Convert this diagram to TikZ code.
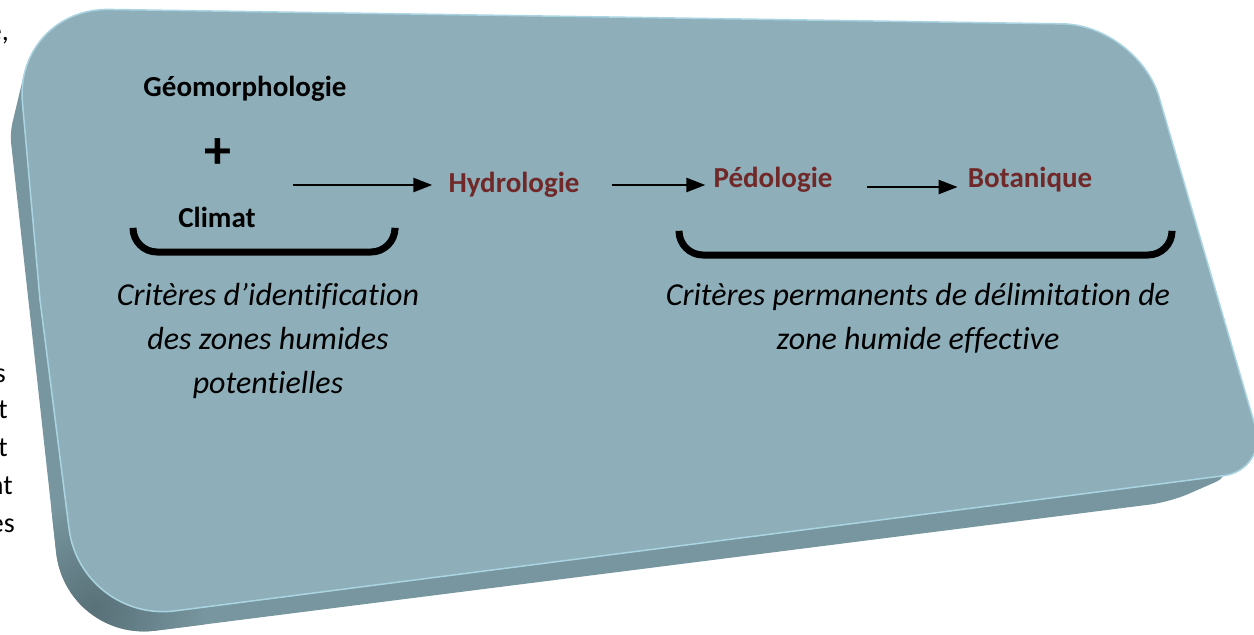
\documentclass[tikz,border=0pt]{standalone}
\usepackage{fontspec}
\setmainfont{Carlito}[Ligatures=NoCommon]
\usetikzlibrary{arrows.meta,calc}

\definecolor{facecol}{RGB}{142,175,186}
\definecolor{sidecol}{RGB}{120,150,159}
\definecolor{sidedark}{RGB}{88,112,120}
\definecolor{rimcol}{RGB}{170,212,225}
\definecolor{critred}{RGB}{112,40,40}

\tikzset{
  face/.style={fill=facecol,draw=rimcol,line width=1.5pt},
  side/.style={fill=sidecol},
  term/.style={font=\bfseries\fontsize{29}{35}\selectfont,inner sep=0pt,anchor=base},
  stage/.style={term,text=critred},
  crit/.style={font=\itshape\fontsize{32}{44}\selectfont,align=center,inner sep=0pt,anchor=north},
  flow/.style={-{Triangle[length=19pt,width=14pt]},line width=2.5pt},
  brc/.style={line width=7pt,rounded corners=24pt},
  margin/.style={font=\fontsize{28}{34}\selectfont,inner sep=0pt,anchor=base east}
}

\begin{document}
\begin{tikzpicture}[x=1pt,y=-1pt]
   \useasboundingbox (0,0) rectangle (1254,635);

   % the slab
   \fill[side] (25,70) [rounded corners=10] -- (10,133) [rounded corners=90] -- (66,642)
      [rounded corners=20] -- (1170,502) -- (1234,474) [sharp corners] -- (1000,300) -- (100,100) -- cycle;
   \begin{scope}
      \clip (25,70) [rounded corners=10] -- (10,133) [rounded corners=90] -- (66,642)
         [rounded corners=20] -- (1170,502) -- (1234,474) [sharp corners] -- (1000,300) -- (100,100) -- cycle;
      \shade[inner color=sidedark,outer color=sidecol] (95,610) circle (110);
   \end{scope}
   \filldraw[face] (40,300) [rounded corners=95] -- (14,8) [rounded corners=75] -- (1138,25)
      [rounded corners=45] -- (1268,470) [rounded corners=95] -- (81,623) [sharp corners] -- cycle;

   % text of the page behind
   \node[margin] (m1) at (9,40) {e,};
   \node[margin] (m2) at (6,382) {s};
   \node[margin] (m3) at (8,418) {t};
   \node[margin] (m4) at (8,456) {t};
   \node[margin] (m5) at (13,494) {nt};
   \node[margin] (m6) at (15,532) {es};

   \node[term] (geo) at (245,96) {Géomorphologie};
   \node[font=\bfseries\fontsize{54}{60}\selectfont,inner sep=0pt] (plus) at (218,154) {+};
   \node[term] (climat) at (217,227) {Climat};

   \node[stage] (hydro) at (514,192) {Hydrologie};
   \node[stage] (pedo) at (773,187) {Pédologie};
   \node[stage] (bota) at (1030,187) {Botanique};

   \coordinate (a1) at (293,185);
   \draw[flow] (a1) -- ($(a1 -| hydro.west)+(-16,0)$);
   \draw[flow] ($(a1 -| hydro.east)+(32,0)$) -- ($(a1 -| pedo.west)+(-8,0)$);
   \draw[flow] ($(pedo.base east)+(34,0)$) -- ($(bota.base west)+(-10,0)$);

   % braces
   \coordinate (b1) at (133,230);
   \coordinate (b2) at (395,230);
   \draw[brc] (b1) -- (133,252) -- (395,252) -- (b2);
   \coordinate (b3) at (679,232);
   \coordinate (b4) at (1172,232);
   \draw[brc] (b3) -- (679,255) -- (1172,255) -- (b4);

   \node[crit] (potent) at (268,283) {Critères d’identification\\des zones humides\\potentielles};
   \node[crit] (effect) at (918,283) {Critères permanents de délimitation de\\zone humide effective};
\end{tikzpicture}
\end{document}
